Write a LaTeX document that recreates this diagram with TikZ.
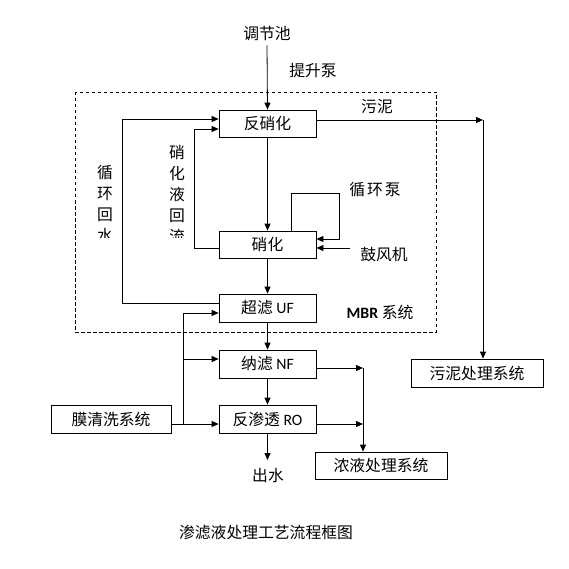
\documentclass[tikz,border=0pt]{standalone}
\usepackage{fontspec}
\setmainfont{Noto Sans CJK SC}
\newfontfamily\lat{Carlito}
\usetikzlibrary{arrows.meta}
\begin{document}
\begin{tikzpicture}[x=1pt,y=-1pt,
  box/.style={draw, line width=0.8pt, minimum width=97pt, minimum height=27pt, inner sep=0pt, font=\fontsize{15.8}{18}\selectfont},
  lbl/.style={inner sep=0pt, font=\fontsize{15.8}{18}\selectfont},
  vlbl/.style={inner sep=0pt, align=center, anchor=north, font=\fontsize{15.8}{21}\selectfont},
  flow/.style={draw, line width=0.8pt, -{Triangle[length=7pt,width=6pt]}},
  ln/.style={draw, line width=0.8pt},
  mbrbox/.style={draw, line width=0.8pt, dash pattern=on 3.5pt off 2.5pt}]
\useasboundingbox (0,0) rectangle (569,569);
\fill[white] (0,0) rectangle (569,569);

% MBR dashed frame
\draw[mbrbox] (75,92) rectangle (436,332);

% boxes
\node[box] (dn) at (267.5,123.5) {反硝化};
\node[box] (n)  at (267.5,244.5) {硝化};
\node[box, minimum height=28pt] (uf) at (267.5,308) {超滤 {\lat UF}};
\node[box, minimum height=28pt] (nf) at (267.5,364) {纳滤 {\lat NF}};
\node[box, minimum height=28pt] (ro) at (267.5,419) {反渗透 {\lat RO}};
\node[box, minimum width=120pt, minimum height=28pt] (mq) at (111,419) {膜清洗系统};
\node[box, minimum width=132pt, minimum height=28pt] (wn) at (477,373) {污泥处理系统};
\node[box, minimum width=132pt] (nl) at (381,465.5) {浓液处理系统};

% labels
\node[lbl] (tjc) at (267,33) {调节池};
\node[lbl] (tsb) at (313,71) {提升泵};
\node[lbl] (wnl) at (377,107) {污泥};
\node[lbl] (xhb) at (375,190) {循\hspace{2pt}环\hspace{2pt}泵};
\node[lbl] (gfj) at (384,255) {鼓风机};
\node[lbl] (mbr) at (380,312) {{\lat\bfseries MBR} 系统};
\node[lbl] (cs)  at (268,476) {出水};
\node[lbl] (tt)  at (266,532) {渗滤液处理工艺流程框图};

\begin{scope}
  \clip (80,140) rectangle (200,237);
  \node[vlbl] (xhhs) at (105,165) {循\\环\\回\\水};
  \node[vlbl] (xhyhl) at (177,145) {硝\\化\\液\\回\\流};
\end{scope}

% coordinates
\coordinate (wc) at (483,120);
\coordinate (out) at (267.5,460);
\coordinate (gfs) at (350,248);
\coordinate (mj) at (183,424);
\coordinate (mt) at (183,313);
\coordinate (mm) at (183,359);
\coordinate (nc) at (363,368);
\coordinate (rc) at (363,424);

% main flow
\draw[flow] ([yshift=-5pt]tjc.south) -- (dn.north);
\draw[flow] (dn) -- (n);
\draw[flow] (n) -- (uf);
\draw[flow] (uf) -- (nf);
\draw[flow] (nf) -- (ro);
\draw[flow] (ro) -- (out);

% sludge
\draw[flow] (dn.east |- wc) -- (wc);
\draw[flow] (wc) -- (wc |- wn.north);

% recirculation
\draw[flow] ([yshift=4.5pt]uf.west) -- ++(-96,0) |- ([yshift=4.5pt]dn.west);
\draw[flow] ([yshift=-3.5pt]n.west) -- ++(-24,0) |- ([yshift=-5.5pt]dn.west);
\draw[flow] ([xshift=23.5pt]n.north) -- ++(0,-37) -- ++(48,0) |- ([yshift=5.5pt]n.east);
\draw[flow] (gfs) -- (n.east |- gfs);

% membrane cleaning
\draw[ln] (mq.east |- mj) -- (mj);
\draw[flow] (mj) -- (ro.west |- mj);
\draw[flow] (mj) -- (mt) -- (uf.west |- mt);
\draw[flow] (mm) -- (nf.west |- mm);

% concentrate
\draw[flow] (nf.east |- nc) -- (nc);
\draw[flow] (ro.east |- rc) -- (rc);
\draw[flow] (nc) -- (nc |- nl.north);
\end{tikzpicture}
\end{document}
